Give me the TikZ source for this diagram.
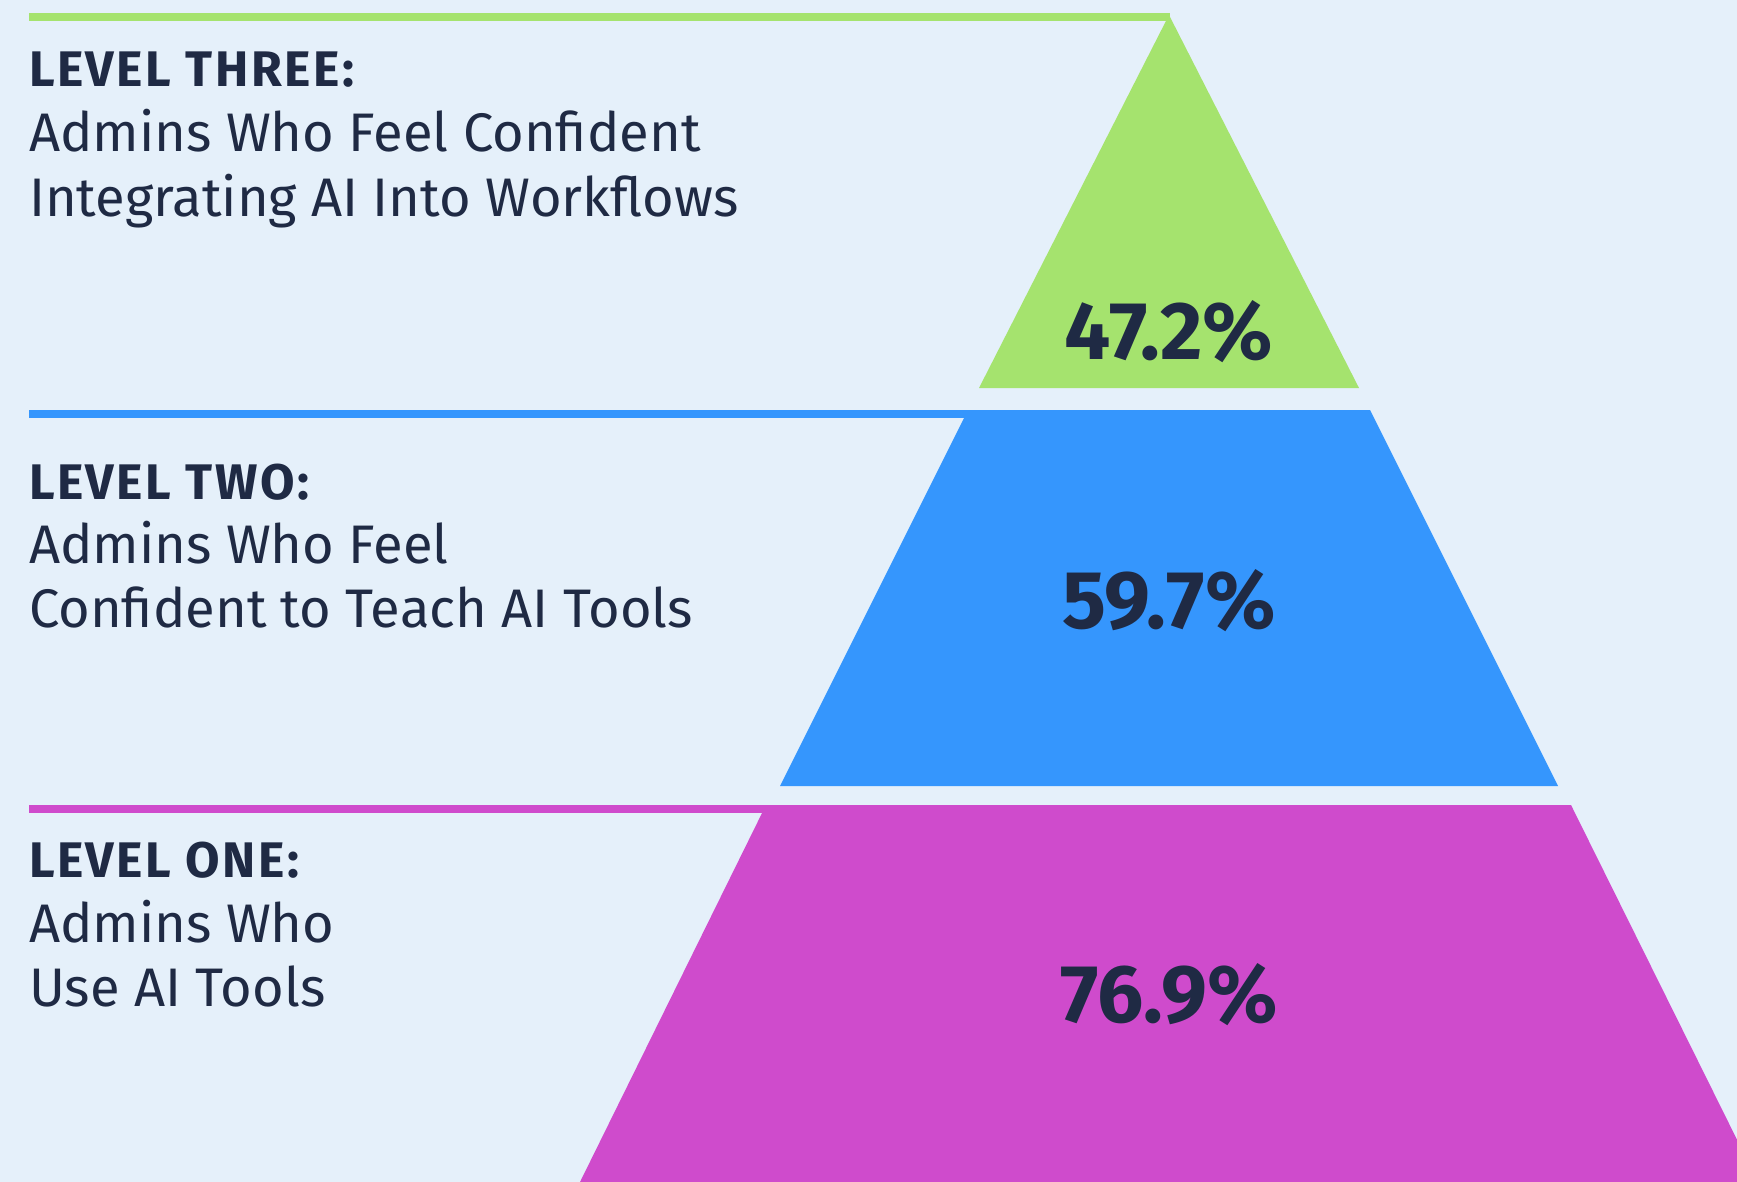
\documentclass[tikz,border=0pt]{standalone}
\usepackage{fontspec}
\setmainfont{Fira Sans}
\newfontfamily\headfont[LetterSpace=5.0]{Fira Sans}
\definecolor{bgblue}{HTML}{E5F0FA}
\definecolor{lvgreen}{HTML}{A5E36E}
\definecolor{lvblue}{HTML}{3596FD}
\definecolor{lvpink}{HTML}{CF4BCC}
\definecolor{ink}{HTML}{1F2A44}
\begin{document}
\begin{tikzpicture}[x=1pt,y=-1pt,
  every node/.style={inner sep=0pt, outer sep=0pt, text=ink},
  heading/.style={anchor=base west, font=\headfont\fontsize{50}{60}\selectfont\bfseries},
  caption/.style={anchor=base west, font=\fontsize{54.3}{65}\selectfont},
  percent/.style={anchor=base, font=\fontsize{82}{98}\selectfont\bfseries}]
\useasboundingbox (0,0) rectangle (1737,1182);
\clip (0,0) rectangle (1737,1182);
\fill[bgblue] (0,0) rectangle (1737,1182);

% level three: rule and apex triangle
\fill[lvgreen] (29,13.3) rectangle (1170,20.7);
\fill[lvgreen] (1169,15) -- (1359,388) -- (979,388) -- cycle;

% level two: rule and middle band
\fill[lvblue] (29,410) rectangle (970,418);
\fill[lvblue] (968,410) -- (1370,410) -- (1558,786) -- (780,786) -- cycle;

% level one: rule and base band
\fill[lvpink] (29,805) rectangle (768,812.7);
\fill[lvpink] (766,805) -- (1571,805) -- (1758,1182) -- (580,1182) -- cycle;

% percentages
\node[percent] (p3) at (1169,359) {47.2\%};
\node[percent] (p2) at (1169,628) {59.7\%};
\node[percent] (p1) at (1169,1022.7) {76.9\%};

% labels
\node[heading] (h3) at (29,87) {LEVEL THREE:};
\node[caption] (c3a) at (29,152) {Admins Who Feel Confident};
\node[caption] (c3b) at (29,216.7) {Integrating AI Into Workflows};

\node[heading] (h2) at (29,499.3) {LEVEL TWO:};
\node[caption] (c2a) at (29,563.3) {Admins Who Feel};
\node[caption] (c2b) at (29,627.7) {Confident to Teach AI Tools};

\node[heading] (h1) at (29,877.7) {LEVEL ONE:};
\node[caption] (c1a) at (29,942.7) {Admins Who};
\node[caption] (c1b) at (29,1006) {Use AI Tools};
\end{tikzpicture}
\end{document}
